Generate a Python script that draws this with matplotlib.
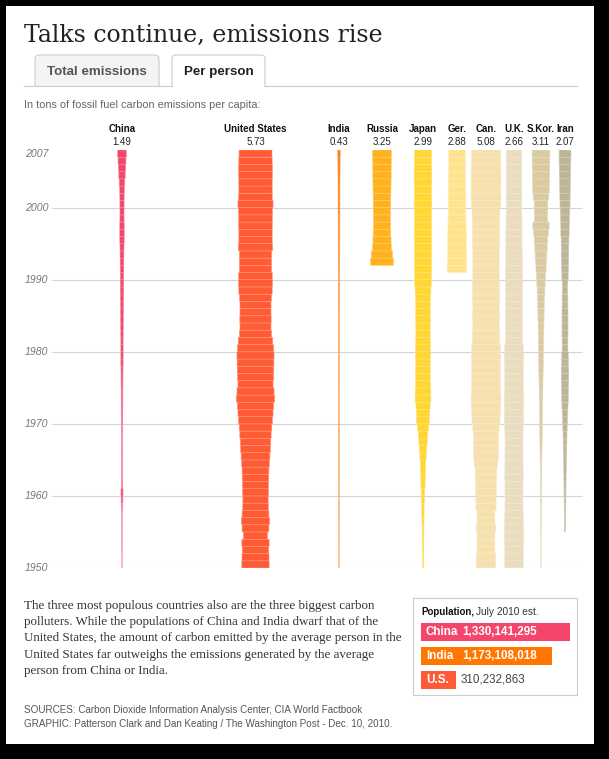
import matplotlib
matplotlib.use("Agg")
import matplotlib.pyplot as plt
from matplotlib.patches import Rectangle, FancyBboxPatch
from matplotlib.colors import to_rgb

# ---- data (tons of carbon per person, 1950..2007; None = no data) ----
years = list(range(1950, 2008))

china = [0.02, 0.03, 0.04, 0.05, 0.05, 0.06, 0.07, 0.09, 0.20, 0.30,
         0.35, 0.20, 0.15, 0.15, 0.15, 0.17, 0.18, 0.15, 0.16, 0.19,
         0.24, 0.26, 0.27, 0.28, 0.28, 0.31, 0.32, 0.35, 0.39, 0.40,
         0.40, 0.39, 0.41, 0.43, 0.46, 0.49, 0.51, 0.54, 0.57, 0.58,
         0.58, 0.61, 0.63, 0.66, 0.69, 0.75, 0.77, 0.76, 0.72, 0.70,
         0.72, 0.74, 0.80, 0.95, 1.10, 1.23, 1.37, 1.49]
usa = [4.75, 4.70, 4.60, 4.75, 4.20, 4.65, 4.90, 4.65, 4.45, 4.40,
       4.50, 4.50, 4.60, 4.65, 4.80, 5.00, 5.20, 5.30, 5.45, 5.65,
       5.90, 6.10, 6.30, 6.65, 6.45, 6.10, 6.30, 6.35, 6.40, 6.45,
       6.30, 6.00, 5.60, 5.40, 5.45, 5.40, 5.40, 5.55, 5.80, 5.90,
       5.85, 5.60, 5.60, 5.60, 5.95, 5.80, 5.80, 5.85, 5.85, 5.90,
       6.10, 5.85, 5.80, 5.80, 5.85, 5.90, 5.80, 5.73]
india = [0.06, 0.06, 0.06, 0.06, 0.07, 0.07, 0.07, 0.08, 0.08, 0.08,
         0.09, 0.09, 0.10, 0.10, 0.10, 0.11, 0.11, 0.11, 0.11, 0.12,
         0.12, 0.12, 0.12, 0.12, 0.13, 0.13, 0.14, 0.14, 0.14, 0.15,
         0.15, 0.16, 0.16, 0.17, 0.18, 0.18, 0.19, 0.20, 0.21, 0.22,
         0.22, 0.24, 0.25, 0.26, 0.27, 0.28, 0.29, 0.30, 0.30, 0.32,
         0.32, 0.32, 0.33, 0.34, 0.36, 0.38, 0.40, 0.43]
russia = [None] * 42 + [4.00, 3.70, 3.25, 3.15, 3.05, 2.95, 2.95, 3.00,
                        3.05, 3.05, 3.10, 3.15, 3.20, 3.20, 3.25, 3.25]
japan = [0.20, 0.22, 0.25, 0.27, 0.30, 0.30, 0.35, 0.40, 0.40, 0.50,
         0.60, 0.72, 0.75, 0.85, 0.95, 1.10, 1.25, 1.45, 1.65, 1.90,
         2.20, 2.30, 2.45, 2.75, 2.70, 2.55, 2.60, 2.60, 2.55, 2.65,
         2.60, 2.55, 2.50, 2.50, 2.60, 2.55, 2.55, 2.60, 2.75, 2.85,
         2.90, 2.95, 2.95, 2.90, 3.00, 3.00, 3.05, 3.00, 2.95, 3.00,
         3.05, 3.00, 3.00, 3.05, 3.05, 3.05, 3.00, 2.99]
germany = [None] * 41 + [3.40, 3.30, 3.25, 3.20, 3.20, 3.25, 3.15, 3.10, 3.00,
                         3.00, 3.05, 2.95, 2.95, 2.95, 2.90, 2.90, 2.88]
canada = [3.40, 3.40, 3.10, 3.10, 3.10, 3.45, 3.10, 3.10, 3.50, 3.55,
          3.60, 3.60, 3.65, 3.75, 4.10, 4.30, 4.35, 4.35, 4.40, 4.60,
          4.90, 5.00, 5.05, 5.20, 5.10, 5.00, 5.00, 5.00, 5.05, 5.10,
          5.00, 4.80, 4.70, 4.60, 4.70, 4.65, 4.60, 4.70, 4.75, 4.70,
          4.60, 4.55, 4.60, 4.60, 4.65, 4.70, 4.70, 4.75, 4.80, 4.85,
          5.10, 5.20, 5.15, 5.20, 5.20, 5.15, 5.05, 5.08]
uk = [3.20, 3.25, 3.20, 3.25, 3.40, 3.35, 3.30, 3.20, 3.15, 3.10,
      3.15, 3.15, 3.20, 3.20, 3.15, 3.15, 3.15, 3.10, 3.15, 3.20,
      3.30, 3.30, 3.30, 3.40, 3.30, 3.20, 3.25, 3.30, 3.30, 3.35,
      3.20, 3.05, 3.00, 3.00, 2.95, 3.00, 3.00, 3.00, 3.00, 2.95,
      2.95, 2.95, 2.90, 2.85, 2.85, 2.80, 2.85, 2.75, 2.75, 2.70,
      2.70, 2.75, 2.70, 2.70, 2.70, 2.70, 2.70, 2.66]
skorea = [0.03, 0.03, 0.04, 0.05, 0.06, 0.08, 0.10, 0.12, 0.14, 0.16,
          0.18, 0.20, 0.22, 0.25, 0.28, 0.31, 0.35, 0.40, 0.44, 0.46,
          0.48, 0.52, 0.56, 0.60, 0.63, 0.67, 0.72, 0.76, 0.80, 0.82,
          0.85, 0.90, 0.95, 1.00, 1.05, 1.10, 1.15, 1.25, 1.35, 1.45,
          1.60, 1.75, 1.90, 2.05, 2.15, 2.35, 2.55, 2.85, 2.30, 2.35,
          2.35, 2.70, 2.90, 2.95, 3.00, 3.05, 3.05, 3.11]
iran = [None] * 5 + [0.20, 0.22, 0.25, 0.28, 0.30,
                     0.33, 0.36, 0.40, 0.45, 0.50, 0.55, 0.60, 0.65, 0.70, 0.75,
                     0.85, 0.95, 1.05, 1.15, 1.20, 1.25, 1.30, 1.30, 1.20, 1.15,
                     1.00, 1.00, 1.05, 1.05, 1.05, 1.05, 1.00, 1.00, 0.95, 0.95,
                     1.10, 1.20, 1.25, 1.30, 1.30, 1.35, 1.45, 1.50, 1.55, 1.65,
                     1.75, 1.80, 1.85, 1.90, 1.95, 2.00, 2.05, 2.07]

names = ["China", "United States", "India", "Russia", "Japan",
         "Ger.", "Can.", "U.K.", "S.Kor.", "Iran"]
series = [china, usa, india, russia, japan, germany, canada, uk, skorea, iran]
colors = ["#f4456b", "#ff5c36", "#ff7d10", "#ffb21d", "#ffd633",
          "#ffe38c", "#f6e0ae", "#e9dcbf", "#d9caa2", "#beb497"]

grid_years = [1950, 1960, 1970, 1980, 1990, 2000]

pop_names = ["China", "India", "U.S."]
pop_values = [1330141295, 1173108018, 310232863]
pop_colors = ["#f4456b", "#ff7700", "#ff5a36"]

body = ["The three most populous countries also are the three biggest carbon",
        "polluters. While the populations of China and India dwarf that of the",
        "United States, the amount of carbon emitted by the average person in the",
        "United States far outweighs the emissions generated by the average",
        "person from China or India."]
sources = ["SOURCES: Carbon Dioxide Information Analysis Center, CIA World Factbook",
           "GRAPHIC: Patterson Clark and Dan Keating / The Washington Post - Dec. 10, 2010."]

# ---- layout (pixels) ----
W, H = 609, 759
PX_PER_TON = 5.75
centers = [122, 255.5, 339, 382, 423, 457, 486, 514, 541, 565]
chart_top, chart_bot = 150, 568

SANS = "Liberation Sans"

fig = plt.figure(figsize=(W / 100, H / 100), dpi=100, facecolor="black")

bg = fig.add_axes([0, 0, 1, 1])
bg.set_xlim(0, W)
bg.set_ylim(H, 0)
bg.axis("off")
bg.add_patch(Rectangle((6, 6), 588, 738, facecolor="white", edgecolor="none"))

# title + tabs
bg.text(24, 42, "Talks continue, emissions rise", family="DejaVu Serif",
        fontsize=17.0, color="#222222", va="baseline")
bg.add_patch(FancyBboxPatch((35, 55), 124, 40, boxstyle="round,pad=0,rounding_size=4",
                            facecolor="#f4f4f4", edgecolor="#cccccc", lw=0.8))
bg.add_patch(FancyBboxPatch((172, 55), 93, 40, boxstyle="round,pad=0,rounding_size=4",
                            facecolor="white", edgecolor="#cccccc", lw=0.8))
bg.add_patch(Rectangle((20, 86.6), 565, 12, facecolor="white", edgecolor="none"))
bg.plot([24, 172], [86.3, 86.3], color="#cccccc", lw=0.8)
bg.plot([265, 577], [86.3, 86.3], color="#cccccc", lw=0.8)
bg.text(97, 72, "Total emissions", family=SANS, weight="bold", fontsize=9.6,
        color="#555555", ha="center", va="center")
bg.text(218.5, 72, "Per person", family=SANS, weight="bold", fontsize=9.6,
        color="#222222", ha="center", va="center")
bg.text(24, 105, "In tons of fossil fuel carbon emissions per capita:", family=SANS,
        fontsize=7.8, color="#666666", va="center")

# column headers
for name, vals, cx in zip(names, series, centers):
    bg.text(cx, 129, name, family=SANS, weight="bold", fontsize=7.0,
            color="#111111", ha="center", va="center")
    bg.text(cx, 142, f"{vals[-1]:.2f}", family=SANS, fontsize=7.0,
            color="#222222", ha="center", va="center")

# main chart
ax = fig.add_axes([0, 1 - chart_bot / H, 1, (chart_bot - chart_top) / H])
ax.set_xlim(0, W / PX_PER_TON)
ax.set_ylim(1950, 2008)
ax.axis("off")

ax.hlines(grid_years, 52 / PX_PER_TON, 582 / PX_PER_TON, color="#d4d4d4", lw=0.8, zorder=1)
for yr in grid_years:
    ax.text(25 / PX_PER_TON, yr, str(yr), family=SANS, style="italic", fontsize=7.6,
            color="#777777", va="center")
ax.text(25 / PX_PER_TON, 2007.5, "2007", family=SANS, style="italic", fontsize=7.6,
        color="#777777", va="center")

for vals, col, cx in zip(series, colors, centers):
    ys = [y for y, v in zip(years, vals) if v is not None]
    vs = [v for v in vals if v is not None]
    c = cx / PX_PER_TON
    r, g, b = to_rgb(col)
    edge = (r + (1 - r) * 0.35, g + (1 - g) * 0.35, b + (1 - b) * 0.35)
    ax.barh(ys, vs, left=[c - v / 2 for v in vs], height=1, align="edge",
            color=col, edgecolor=edge, linewidth=0.4, snap=False, zorder=3)

# text below
for i, line in enumerate(body):
    bg.text(24, 606 + i * 16.2, line, family="Liberation Serif", fontsize=9.4,
            color="#333333", va="center")
for i, line in enumerate(sources):
    bg.text(24, 710 + i * 14, line, family=SANS, fontsize=7.15, color="#555555", va="center")

# population box
bg.add_patch(Rectangle((412.5, 598), 164, 97, facecolor="white", edgecolor="#cccccc", lw=0.8))
bg.text(421, 612, "Population,", family=SANS, weight="bold", fontsize=7.0,
        color="#111111", va="center")
bg.text(476, 612, "July 2010 est.", family=SANS, fontsize=7.3, color="#333333", va="center")

pax = fig.add_axes([421 / W, 1 - 692 / H, 156 / W, 72 / H])
pax.set_xlim(0, max(pop_values) * 156 / 149)
pax.set_ylim(2.5, -0.5)
pax.axis("off")
pax.barh(range(len(pop_values)), pop_values, height=0.79, color=pop_colors)
for i, (nm, p) in enumerate(zip(pop_names, pop_values)):
    yc = 632 + i * 24
    pax.text(426, yc, nm, family=SANS, weight="bold", fontsize=8.4, color="white",
             va="center", transform=bg.transData)
    if i < 2:
        pax.text(462, yc, f"{p:,}", family=SANS, weight="bold", fontsize=8.4,
                 color="white", va="center", transform=bg.transData)
    else:
        pax.text(461, yc, f"{p:,}", family=SANS, fontsize=8.4, color="#444444",
                 va="center", transform=bg.transData)

fig.savefig("out.png", dpi=100, facecolor="black")
